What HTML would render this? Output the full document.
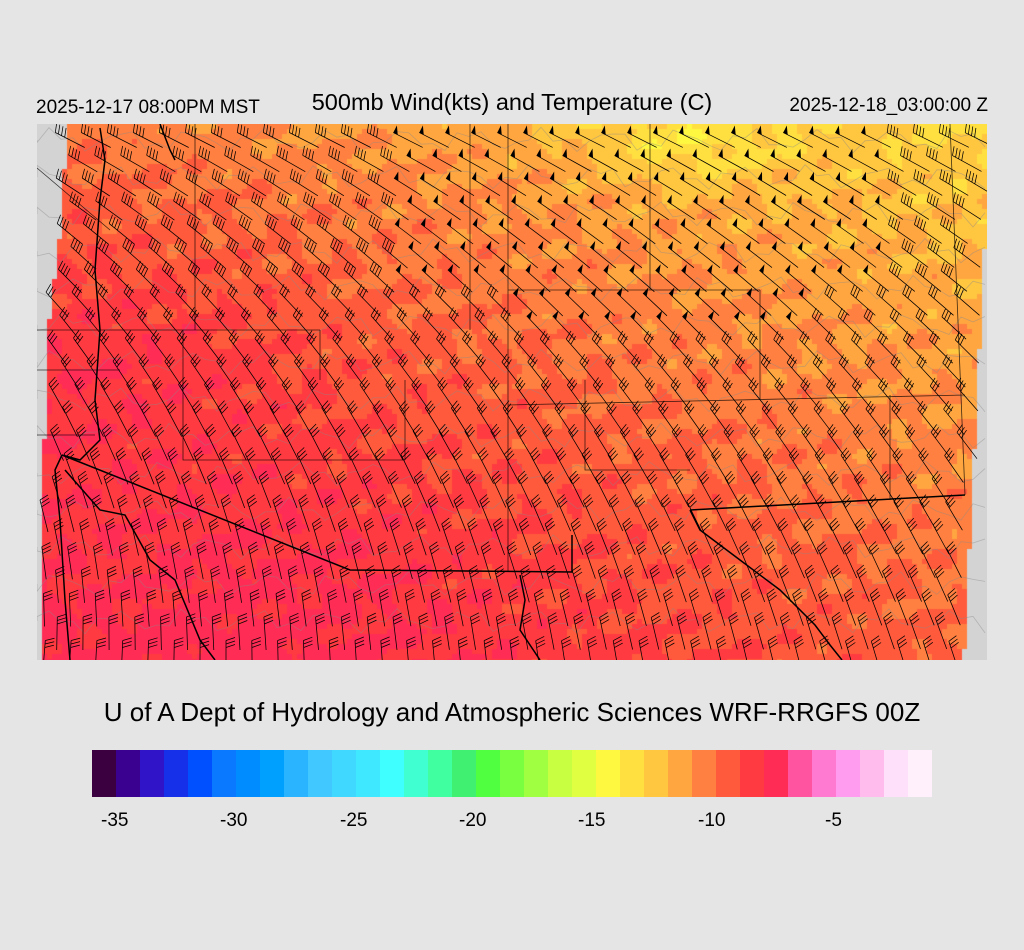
<!DOCTYPE html>
<html><head><meta charset="utf-8"><style>
html,body{margin:0;padding:0;background:#e5e5e5;}
body{width:1024px;height:950px;position:relative;overflow:hidden;font-family:"Liberation Sans",sans-serif;}
.t{position:absolute;white-space:nowrap;color:#000;}
#cv{position:absolute;left:37px;top:124px;}
#sv{position:absolute;left:0;top:0;}
</style></head><body>
<div class="t" style="left:0;width:1024px;text-align:center;top:89px;font-size:23.5px;">500mb Wind(kts) and Temperature (C)</div>
<div class="t" style="left:36px;top:97px;font-size:19px;">2025-12-17 08:00PM MST</div>
<div class="t" style="right:36px;top:95px;font-size:19px;">2025-12-18_03:00:00 Z</div>
<canvas id="cv" width="950" height="536"></canvas>
<svg id="sv" width="1024" height="950"></svg>
<div class="t" style="left:0;width:1024px;text-align:center;top:697px;font-size:26px;">U of A Dept of Hydrology and Atmospheric Sciences WRF-RRGFS 00Z</div>
<div id="cb" style="position:absolute;left:92px;top:750px;width:840px;height:47px;display:flex;"></div>
<div class="t" style="left:101px;top:810px;font-size:19px;">-35</div>
<div class="t" style="left:220px;top:810px;font-size:19px;">-30</div>
<div class="t" style="left:340px;top:810px;font-size:19px;">-25</div>
<div class="t" style="left:459px;top:810px;font-size:19px;">-20</div>
<div class="t" style="left:578px;top:810px;font-size:19px;">-15</div>
<div class="t" style="left:698px;top:810px;font-size:19px;">-10</div>
<div class="t" style="left:825px;top:810px;font-size:19px;">-5</div>
<script>
var cols=["#3b003f","#3a0090","#2f14c8","#1530e8","#0050ff","#0a78ff","#008cff","#00a0ff","#2ab4ff","#40c8ff","#40d8ff","#40e8ff","#40ffff","#40ffd0","#40ffa0","#40f070","#50ff40","#7aff40","#a0ff40","#c8ff40","#e0ff40","#fff840","#ffe040","#ffc640","#ffa640","#ff8040","#ff5a3c","#ff3a40","#ff2c55","#ff55a0","#ff7ad0","#ff9cf0","#ffbcec","#ffe0fa","#fff0fc"];
var cb=document.getElementById('cb');
cols.forEach(function(c){var d=document.createElement('div');d.style.cssText='flex:1;background:'+c;cb.appendChild(d);});
var pal=["#fff840","#ffe040","#ffc640","#ffa640","#ff8040","#ff5a3c","#ff3a40","#ff2c55"];
function leftEdge(y){if(y<240)return 65-(y-124)*0.07;if(y<330)return 57-(y-240)*0.13;if(y<580)return 45-(y-330)*0.028;return 38;}
function rightEdge(y){return 988-(y-124)*0.05;}
function G(x,y,cx,cy,sx,sy){return Math.exp(-((x-cx)*(x-cx)/sx+(y-cy)*(y-cy)/sy));}
function L(x,y){var ny=(y-124)/536,nx=(x-37)/950;
var v=1.6+2.6*ny+3.0*(1-nx)-0.8*Math.pow(1-ny,4)-1.6*G(x,y,680,140,9000,1800)+0.45;
v+=0.5*G(x,y,150,350,20000,8000)-0.7*G(x,y,70,600,10000,25000)+0.3*G(x,y,380,560,25000,8000);
v+=0.35*Math.sin(x*0.05+y*0.11)+0.3*Math.sin(x*0.13-y*0.07)+0.2*Math.sin(x*0.031+y*0.2);
return v;}
var cv=document.getElementById('cv'),ctx=cv.getContext('2d');
ctx.fillStyle='#d3d3d3';ctx.fillRect(0,0,950,536);
var B=5;
for(var yy=0;yy<536;yy+=B){for(var xx=0;xx<950;xx+=B){var X=xx+37,Y=yy+124;
if(X<leftEdge(Y)||X>rightEdge(Y))continue;
var k=Math.round(L(X,Y));if(k<0)k=0;if(k>7)k=7;ctx.fillStyle=pal[k];ctx.fillRect(xx,yy,B,B);}}
var s='<defs><clipPath id="cp"><rect x="37" y="124" width="950" height="536"/></clipPath></defs><g clip-path="url(#cp)">';
var g='';
for(var i=0;i<14;i++){var y0=140+i*37;var p='M37,'+y0;for(var x=37;x<=990;x+=12){p+=' L'+x+','+(y0+8*Math.sin(x*0.09+i)+5*Math.sin(x*0.23+i*2)).toFixed(1);}g+='<path d="'+p+'" fill="none" stroke="#8a8a8a" stroke-width="0.8" opacity="0.45"/>';}
s+=g;
var b='';
for(var r=0;r<23;r++){var Y=140+r*23.5;for(var c=0;c<40;c++){var X=44+c*26+((r%2)*13);
if(X<leftEdge(Y)+3||X>rightEdge(Y)-3||Y>660)continue;
var ny=(Y-124)/536,nx=(X-37)/950;
var th=(25+58*ny-12*(nx-0.5)*ny*2)*Math.PI/180;
var cs=Math.cos(th),sn=Math.sin(th);var len=33;
var sx=X+len*0.5*cs,sy=Y+len*0.5*sn;var tx=sx-len*cs,ty=sy-len*sn;
b+='M'+sx.toFixed(1)+','+sy.toFixed(1)+'L'+tx.toFixed(1)+','+ty.toFixed(1);
var px=sn,py=-cs,dx=-cs,dy=-sn;
var pen=(X>400&&Y<300&&X<900)||(X>520&&X<820&&Y<335);
if(pen){var ax=tx+8*px,ay=ty+8*py;var bx=tx-5*dx,by=ty-5*dy;
s+='<path d="M'+tx.toFixed(1)+','+ty.toFixed(1)+'L'+ax.toFixed(1)+','+ay.toFixed(1)+'L'+bx.toFixed(1)+','+by.toFixed(1)+'Z" fill="#000"/>';}
else{var n=(Y>300)?3:4;for(var j=0;j<n;j++){var ox=tx-j*3.5*dx,oy=ty-j*3.5*dy;
b+='M'+ox.toFixed(1)+','+oy.toFixed(1)+'L'+(ox+9*px+3*dx).toFixed(1)+','+(oy+9*py+3*dy).toFixed(1);}}}}
s+='<path d="'+b+'" stroke="#000" stroke-width="0.75" fill="none"/>';
var thin='M508,124 L508,572 M195,124 L195,330 M37,330 L320,330 M320,330 L320,380 M37,435 L95,435 M470,124 L470,330 M508,290 L760,290 M508,405 L965,395 M650,124 L650,290 M950,124 L965,495 M37,168 L110,230 M183,330 L183,460 L405,460 M405,380 L405,460 M585,380 L585,470 L690,470 M760,290 L760,400 M890,395 L890,500 M37,370 L120,370';
s+='<path d="'+thin+'" stroke="#000" stroke-width="0.8" fill="none" opacity="0.75"/>';
var thick='M62,455 L350,570 L572,572 L572,535 M690,510 L965,495 M690,510 L700,530 L740,560 L780,590 L815,625 L830,645 L842,660 M62,455 L55,470 L60,520 L65,600 L70,660 M65,470 L100,510 L125,515 L150,560 L175,580 L200,640 L215,660 M520,575 L525,600 L520,630 L540,660 M100,128 L105,160 L100,200 L95,270 L100,330 L95,400 L100,440 L80,460 L62,455 M160,124 L170,150 L175,160';
s+='<path d="'+thick+'" stroke="#000" stroke-width="1.5" fill="none"/>';
s+='</g>';
document.getElementById('sv').innerHTML=s;
</script>
</body></html>
